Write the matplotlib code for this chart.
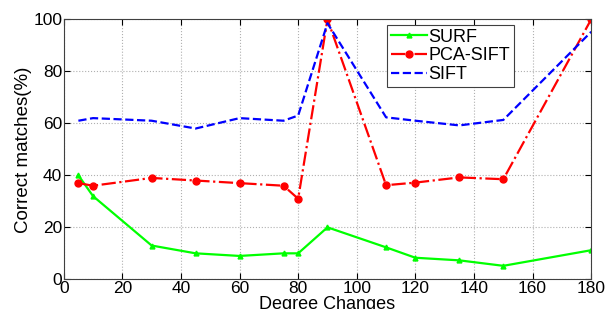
import matplotlib.pyplot as plt

plt.rcParams['font.family'] = ['Liberation Sans', 'DejaVu Sans']

# degree changes (x)
degrees = [5, 10, 30, 45, 60, 75, 80, 90, 110, 120, 135, 150, 180]

# correct matches (%)
surf = [40, 32, 13, 10, 9, 10, 10, 20, 12.3, 8.3, 7.3, 5.2, 11.2]
pca_sift = [37, 36, 39, 38, 37, 36, 31, 100, 36.2, 37.2, 39.2, 38.5, 100]
sift = [61, 62, 61, 58, 62, 61, 63, 98.5, 62.3, 61, 59.2, 61.3, 95.2]

fig = plt.figure(figsize=(6.07, 3.09), dpi=100)
ax = fig.add_axes([0.105, 0.096, 0.869, 0.8415])

ax.plot(degrees, surf, '-', color='#00ff00', lw=1.6, marker='^', ms=3.5, label='SURF')
ax.plot(degrees, pca_sift, '-.', color='#ff0000', lw=1.6, marker='o', ms=5, label='PCA-SIFT')
ax.plot(degrees, sift, '--', color='#0000ff', lw=1.6, label='SIFT')

ax.set_xlim(0, 180)
ax.set_ylim(0, 100)
ax.set_xticks(range(0, 181, 20))
ax.set_yticks(range(0, 101, 20))
ax.tick_params(direction='in', labelsize=12.5, top=True, right=True, length=4, pad=1)
ax.grid(True, linestyle=':', color='#b0b0b0', lw=0.8)
for s in ax.spines.values():
    s.set_color('#404040')

ax.set_xlabel('Degree Changes', fontsize=13, labelpad=0)
ax.set_ylabel('Correct matches(%)', fontsize=13.5, labelpad=1)

leg = ax.legend(loc='upper left', bbox_to_anchor=(0.613, 0.978), fontsize=13,
                fancybox=False, framealpha=1, edgecolor='#404040',
                handlelength=2.0, handletextpad=0.1, borderpad=0.2, labelspacing=0.1,
                borderaxespad=0)
leg.get_frame().set_linewidth(0.8)

fig.savefig('out.png', dpi=100)
